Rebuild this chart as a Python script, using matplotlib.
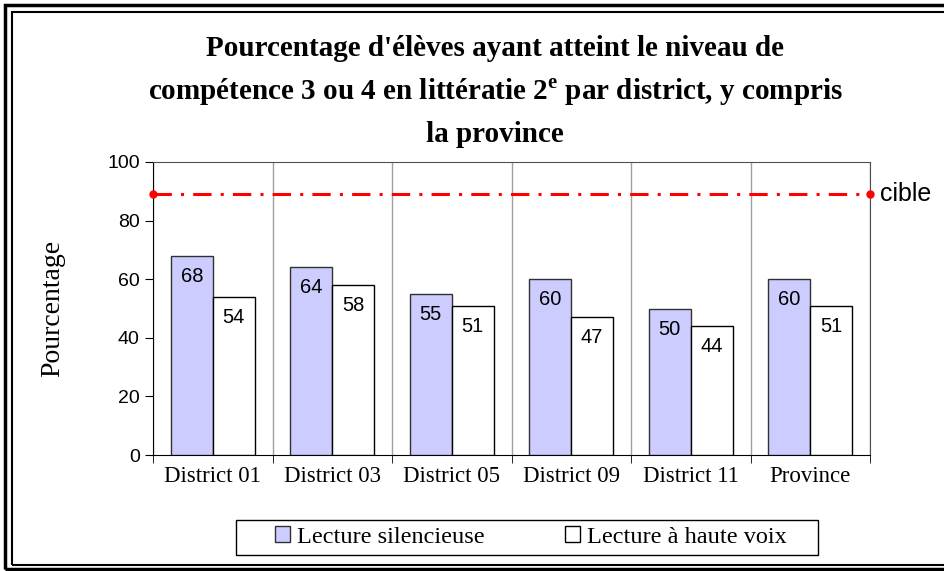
import numpy as np
import matplotlib
matplotlib.use("Agg")
import matplotlib.pyplot as plt
from matplotlib.patches import Rectangle, Patch

plt.rcParams['mathtext.fontset'] = 'custom'
plt.rcParams['mathtext.rm'] = 'Liberation Serif:bold'
plt.rcParams['mathtext.bf'] = 'Liberation Serif:bold'

categories = ['District 01', 'District 03', 'District 05', 'District 09', 'District 11', 'Province']
silencieuse = [68, 64, 55, 60, 50, 60]
haute_voix = [54, 58, 51, 47, 44, 51]
cible = 89
yticks = [0, 20, 40, 60, 80, 100]

serif = 'Liberation Serif'
sans = 'Liberation Sans'

fig = plt.figure(figsize=(9.44, 5.71), dpi=100)
ax = fig.add_axes([153/944, 1-455/571, (870-153)/944, (455-162)/571])

x = np.arange(len(categories))
w = 0.35
b1 = ax.bar(x - w/2, silencieuse, w, color='#CCCCFF', edgecolor='#303030', linewidth=1, zorder=3)
b2 = ax.bar(x + w/2, haute_voix, w, color='white', edgecolor='black', linewidth=1, zorder=3)

for rect, v in zip(list(b1) + list(b2), silencieuse + haute_voix):
    ax.text(rect.get_x() + rect.get_width()/2, v - 7, str(v), ha='center', va='center',
            fontsize=14.5, family=sans, zorder=4)

# ligne cible
ax.plot([-0.5, len(categories) - 0.5], [cible, cible], color='red', lw=2.2,
        ls=(0, (6, 3, 1, 3)), marker='o', markersize=5, zorder=5, clip_on=False)
ax.text(len(categories) - 0.5 + 0.08, cible, 'cible', va='center', ha='left',
        fontsize=18, family=sans)

ax.set_xlim(-0.5, len(categories) - 0.5)
ax.set_ylim(0, 100)
ax.set_yticks(yticks)
ax.set_yticklabels([str(t) for t in yticks], family=sans, fontsize=14)
ax.set_xticks(x)
ax.set_xticklabels(categories, family=serif, fontsize=16.5)
ax.tick_params(axis='x', length=0, pad=8)
ax.set_xticks(np.arange(len(categories) + 1) - 0.5, minor=True)
ax.tick_params(axis='x', which='minor', length=6, direction='out', color='black')
ax.tick_params(axis='y', length=6, direction='out')
ax.grid(axis='x', which='minor', color='#A0A0A0', lw=1, zorder=1)

for s in ['top', 'right']:
    ax.spines[s].set_color('#505050')
ax.set_ylabel('Pourcentage', family=serif, fontsize=20, labelpad=30)

title_lines = ["Pourcentage d'élèves ayant atteint le niveau de",
               r"compétence 3 ou 4 en littératie 2$^{\mathrm{e}}$ par district, y compris",
               "la province"]
for line, ypx in zip(title_lines, [48, 92, 135]):
    fig.text(495/944, 1-ypx/571, line, ha='center', va='center',
             family=serif, fontsize=21, weight='bold')

handles = [Patch(facecolor='#CCCCFF', edgecolor='#303030'),
           Patch(facecolor='white', edgecolor='black')]
leg = fig.legend(handles, ['Lecture silencieuse', 'Lecture à haute voix'],
                 loc='center', bbox_to_anchor=(531/944, 1-537/571), ncol=2,
                 prop={'family': serif, 'size': 17.5}, frameon=False,
                 handlelength=0.6, handleheight=0.6,
                 handletextpad=0.3, columnspacing=3.3)
# cadre de la légende
fig.patches.append(Rectangle((236/944, 1-555/571), (818-236)/944, 35/571,
                             transform=fig.transFigure, fill=False,
                             edgecolor='black', lw=1))

# double cadre
fig.patches.append(Rectangle((5/944, 1-569/571), 1.05, 564/571, transform=fig.transFigure,
                             fill=False, edgecolor='black', lw=2.5))
fig.patches.append(Rectangle((12/944, 1-565/571), 1.05, 553/571, transform=fig.transFigure,
                             fill=False, edgecolor='black', lw=1.5))

fig.savefig('out.png', dpi=100)
